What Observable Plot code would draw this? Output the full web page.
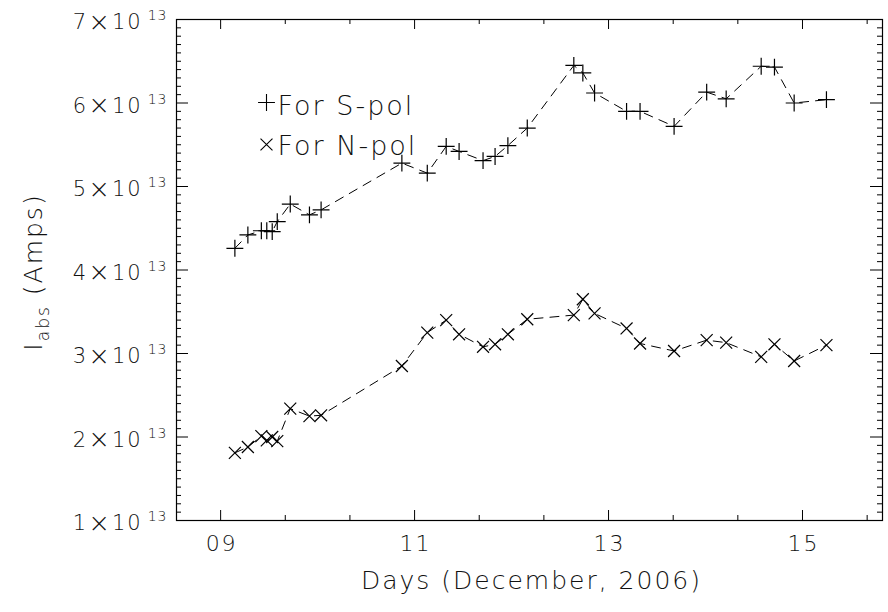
<!DOCTYPE html>
<html>
<head>
<meta charset="utf-8">
<script src="https://cdn.jsdelivr.net/npm/d3@7"></script>
<script src="https://cdn.jsdelivr.net/npm/@observablehq/plot@0.6"></script>
<style>
  html, body { margin: 0; padding: 0; background: #fff; }
  #chart svg { display: block; }
</style>
</head>
<body>
<div id="chart"></div>
<script>
// ---- data ----
const days = [9.147, 9.281, 9.420, 9.476, 9.532, 9.584, 9.718, 9.916, 10.036,
  10.869, 11.131, 11.326, 11.459, 11.706, 11.830, 11.962, 12.162, 12.642, 12.735,
  12.856, 13.186, 13.325, 13.676, 14.012, 14.213, 14.574, 14.711, 14.914, 15.247];
const sPol = [4.26e13, 4.42e13, 4.47e13, 4.47e13, 4.46e13, 4.58e13, 4.79e13, 4.66e13, 4.72e13,
  5.28e13, 5.16e13, 5.48e13, 5.42e13, 5.31e13, 5.36e13, 5.49e13, 5.70e13, 6.45e13, 6.36e13,
  6.12e13, 5.90e13, 5.90e13, 5.72e13, 6.13e13, 6.05e13, 6.44e13, 6.43e13, 6.00e13, 6.04e13];
const nPol = [1.81e13, 1.88e13, 2.01e13, 1.96e13, 2.00e13, 1.95e13, 2.34e13, 2.25e13, 2.26e13,
  2.85e13, 3.25e13, 3.40e13, 3.23e13, 3.08e13, 3.11e13, 3.23e13, 3.41e13, 3.46e13, 3.65e13,
  3.48e13, 3.30e13, 3.12e13, 3.03e13, 3.16e13, 3.13e13, 2.96e13, 3.11e13, 2.91e13, 3.10e13];
const seriesNames = ["For S-pol", "For N-pol"];
const seriesSymbols = ["plus", "times"];

const xDomain = [8.545, 15.825];
const yDomain = [1e13, 7e13];
const xTickValues = [9, 11, 13, 15];
const xTickLabels = ["09", "11", "13", "15"];
const xMinorStep = 2 / 3;
const yTickValues = [1e13, 2e13, 3e13, 4e13, 5e13, 6e13, 7e13];
const yTickMantissas = ["1", "2", "3", "4", "5", "6", "7"];
const yTickExponent = "13";
const yMinorStep = 1e12;
const xTitle = "Days (December, 2006)";
const yTitleMain = "I";
const yTitleSub = "abs";
const yTitleRest = " (Amps)";

// ---- derived tables ----
const data = [];
days.forEach((d, i) => {
  data.push({day: d, value: sPol[i], series: seriesNames[0]});
});
days.forEach((d, i) => {
  data.push({day: d, value: nPol[i], series: seriesNames[1]});
});
const xMinor = d3.range(xTickValues[0], xDomain[1], xMinorStep).filter(v => !xTickValues.some(t => Math.abs(t - v) < 1e-6));
const yMinor = d3.range(yDomain[0], yDomain[1] + 1, yMinorStep).filter(v => !yTickValues.some(t => Math.abs(t - v) < 1e3));

const W = 888, H = 612;
const mL = 176, mR = 6, mT = 19, mB = 92;
const FW = W - mL - mR, FH = H - mT - mB;
const FONT = "DejaVu Sans";
const TXT = "#111";

const tickStyle = {stroke: "#000", strokeWidth: 1};

const marks = [
  Plot.frame({stroke: "#000", strokeWidth: 1.2}),
  // inward ticks on all four sides
  Plot.tickX(xTickValues, {x: d => d, insetTop: FH - 10, ...tickStyle}),
  Plot.tickX(xTickValues, {x: d => d, insetBottom: FH - 10, ...tickStyle}),
  Plot.tickX(xMinor, {x: d => d, insetTop: FH - 5, ...tickStyle}),
  Plot.tickX(xMinor, {x: d => d, insetBottom: FH - 5, ...tickStyle}),
  Plot.tickY(yTickValues, {y: d => d, insetRight: FW - 12, ...tickStyle}),
  Plot.tickY(yTickValues, {y: d => d, insetLeft: FW - 12, ...tickStyle}),
  Plot.tickY(yMinor, {y: d => d, insetRight: FW - 5, ...tickStyle}),
  Plot.tickY(yMinor, {y: d => d, insetLeft: FW - 5, ...tickStyle}),
  // tick labels
  Plot.text(xTickValues, {
    x: d => d, frameAnchor: "bottom", textAnchor: "middle", dy: 30, dx: 1,
    text: d => xTickLabels[xTickValues.indexOf(d)],
    fontSize: 22, fill: TXT, fontFamily: FONT, fontWeight: 200
  }),
  Plot.text(yTickValues, {
    y: d => d, frameAnchor: "left", textAnchor: "end", dx: -9, dy: 3,
    text: d => yTickMantissas[yTickValues.indexOf(d)] + "×10^" + yTickExponent,
    fontSize: 21, fill: TXT, fontFamily: FONT, fontWeight: 200
  }),
  // axis titles
  Plot.text([xTitle], {
    frameAnchor: "bottom", textAnchor: "middle", dy: 68, dx: 2, text: d => d,
    fontSize: 25, fill: TXT, fontFamily: FONT, fontWeight: 200
  }),
  Plot.text([yTitleMain + yTitleSub + yTitleRest], {
    frameAnchor: "left", textAnchor: "middle", dx: -143, dy: 2, rotate: -90, text: d => d,
    fontSize: 25, fill: TXT, fontFamily: FONT, fontWeight: 200
  }),
  // data
  Plot.line(data, {x: "day", y: "value", z: "series", stroke: "#000", strokeWidth: 1, strokeDasharray: "9,7"}),
  Plot.dot(data, {x: "day", y: "value", symbol: "series", r: 5.5, stroke: "#000", strokeWidth: 1.2, fill: "none"}),
  // legend
  ...seriesNames.flatMap((name, i) => [
    Plot.dot([name], {frameAnchor: "top-left", dx: 90, dy: 83 + i * 42, symbol: () => name, r: 5.5, stroke: "#000", strokeWidth: 1.1, fill: "none"}),
    Plot.text([name], {frameAnchor: "top-left", textAnchor: "start", dx: 101, dy: 76 + i * 40, text: d => d,
      fontSize: 27, fill: TXT, fontFamily: FONT, fontWeight: 200})
  ])
];

const chart = Plot.plot({
  width: W, height: H,
  marginLeft: mL, marginRight: mR, marginTop: mT, marginBottom: mB,
  style: {background: "#fff", fontFamily: FONT},
  x: {domain: xDomain, axis: null},
  y: {domain: yDomain, axis: null},
  symbol: {domain: seriesNames, range: seriesSymbols},
  marks
});

const svg = d3.select(chart);
// letter spacing to mimic the wide vector font
svg.selectAll("text").attr("letter-spacing", "2px");
// larger multiplication sign and superscripts on y tick labels
svg.selectAll("text").filter(function () { return /\^/.test(this.textContent); }).each(function () {
  const [base, exp] = this.textContent.split("^");
  const [mant, pow] = base.split("×");
  const t = d3.select(this);
  t.text(null);
  t.append("tspan").text(mant);
  t.append("tspan").attr("font-size", 26).attr("dy", 1.5).text("×");
  t.append("tspan").attr("dy", -1.5).text(pow);
  t.append("tspan").attr("dx", 5).attr("dy", -9).attr("font-size", 14).attr("letter-spacing", "1px").text(exp);
});
// subscript on y title
svg.selectAll("text").filter(function () { return this.textContent === yTitleMain + yTitleSub + yTitleRest; }).each(function () {
  const t = d3.select(this);
  t.text(null);
  t.append("tspan").text(yTitleMain);
  t.append("tspan").attr("dy", 7).attr("font-size", 17).text(yTitleSub);
  t.append("tspan").attr("dy", -7).text(yTitleRest);
});

document.getElementById("chart").appendChild(chart);
</script>
</body>
</html>
